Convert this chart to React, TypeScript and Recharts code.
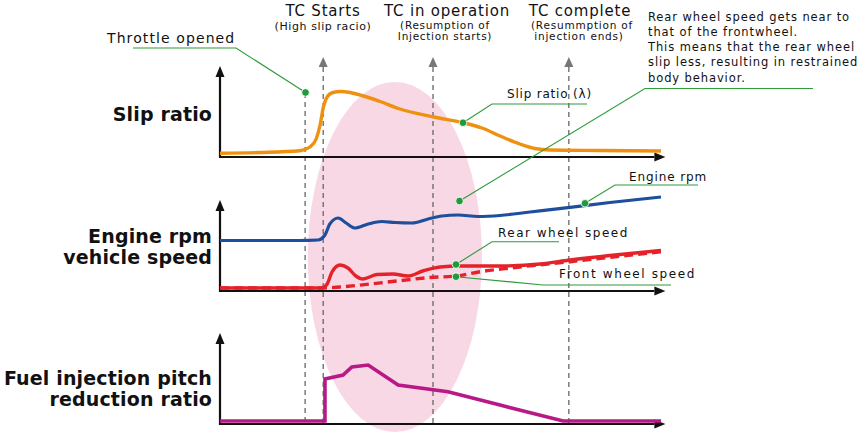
import React from "react";
import { LineChart, Line, XAxis, YAxis, ReferenceLine, ReferenceArea } from "recharts";

// ---- time axis (0..100) ----
const eventTimes = { throttle: 19.3, tcStart: 23.4, tcOperation: 48.3, tcComplete: 79.1 };
const eventTitles = ["TC Starts", "TC in operation", "TC complete"];

// ---- Slip ratio ----
const slipTime = [0, 9.1, 18.1, 20.4, 21.8, 22.7, 23.4, 24.3, 25.6, 27.4, 29.5, 32.2, 36.3, 40.8, 48.5, 55.1, 59.4, 63.5, 68, 71.4, 74.8, 86.2, 100];
const slipRatio = [3.7, 4.5, 6.3, 10, 18, 32, 49, 60, 64.5, 65.5, 64.5, 61.5, 55.5, 48, 40, 34.3, 29, 21, 13, 8.5, 7, 6.5, 6];

// ---- Engine rpm ----
const rpmTime = [0, 18.1, 22.2, 23.8, 24.9, 26.8, 28.6, 30.6, 33.6, 36.7, 39.7, 43.5, 47.2, 50.3, 54, 58.5, 63.5, 70.3, 79.4, 88.4, 100];
const engineRpm = [50.5, 50.5, 51, 56, 67, 73, 68, 63, 67, 69.5, 68.5, 68, 72, 75, 76, 74.5, 75.5, 79, 83.7, 88.5, 94];

// ---- Rear wheel speed ----
const rearTime = [0, 23.1, 24.3, 25.4, 27.2, 29, 30.8, 32.4, 35.6, 39.2, 42.6, 46, 49.9, 54.4, 63.5, 72.6, 79.4, 88.4, 100];
const rearSpeed = [3, 3, 7, 19, 26, 23, 15, 12, 16.5, 17, 15, 20, 24, 25, 25, 27, 31, 35.5, 40.5];

// ---- Front wheel speed ----
const frontTime = [0, 23.4, 27.2, 34, 40.8, 47.6, 53.5, 59, 65.8, 79.4, 100];
const frontSpeed = [3, 3, 4, 7, 10.3, 13.5, 15, 19.3, 23, 29.3, 39.3];

// ---- Fuel injection pitch reduction ratio ----
const fuelTime = [0, 23.8, 23.8, 27.9, 29.9, 33.6, 40.4, 51.7, 63.5, 77.8, 100];
const fuelRatio = [3, 3, 45, 49, 57, 59, 39, 32.3, 19, 3, 3];

const zip = (ts: number[], vs: number[]) => ts.map((t, i) => ({ t, v: vs[i] }));
const slipData = zip(slipTime, slipRatio);
const rpmData = zip(rpmTime, engineRpm);
const rearData = zip(rearTime, rearSpeed);
const frontData = zip(frontTime, frontSpeed);
const fuelData = zip(fuelTime, fuelRatio);
// background layer frame (time range 0..100, vertical layout 0..437)
const frameData = [{ t: 0, v: 0 }, { t: 100, v: 437 }];

const W = 860;
const H = 437;
const LEFT = 220;
const RIGHT = 199;

const AxisArrow = (p: any) => {
  const { x1, y1, x2, y2 } = p;
  const dx = x2 - x1, dy = y2 - y1;
  const L = Math.hypot(dx, dy) || 1;
  const ux = dx / L, uy = dy / L;
  const len = 11, hw = 4.5;
  const tip = [x2 + ux * len, y2 + uy * len];
  const a = [x2 - uy * hw, y2 + ux * hw];
  const b = [x2 + uy * hw, y2 - ux * hw];
  return (
    <g>
      <line x1={x1 - ux * 1} y1={y1 - uy * 1} x2={x2} y2={y2} stroke="#111" strokeWidth={2.2} />
      <polygon points={`${tip[0]},${tip[1]} ${a[0]},${a[1]} ${b[0]},${b[1]}`} fill="#111" />
    </g>
  );
};

const EventArrow = (p: any) => {
  const { x1, y1, x2, y2 } = p;
  return (
    <g>
      <line x1={x1} y1={y1} x2={x2} y2={y2} stroke="#666" strokeWidth={1.3} strokeDasharray="5 4" />
      <polygon points={`${x1},${y1 - 10} ${x1 - 4.5},${y1} ${x1 + 4.5},${y1}`} fill="#777" />
    </g>
  );
};

const PlainDashed = (p: any) => {
  const { x1, y1, x2, y2 } = p;
  return <line x1={x1} y1={y1} x2={x2} y2={y2} stroke="#666" strokeWidth={1.3} strokeDasharray="5 4" />;
};

const EllipseShape = (p: any) => {
  const { x, y, width, height } = p;
  return <ellipse cx={x + width / 2} cy={y + height / 2} rx={width / 2} ry={height / 2} fill="#f9d8e6" />;
};

const Panel = ({ top, bottom, yMax, children }: any) => (
  <div style={{ position: "absolute", left: 0, top: 0 }}>
    <LineChart width={W} height={H} margin={{ top, right: RIGHT, bottom: H - bottom, left: LEFT }}>
      <XAxis type="number" dataKey="t" domain={[0, 100]} hide />
      <YAxis type="number" domain={[0, yMax]} hide />
      <ReferenceLine segment={[{ x: 0, y: 0 }, { x: 98.5, y: 0 }]} shape={AxisArrow} ifOverflow="visible" />
      <ReferenceLine segment={[{ x: 0, y: 0 }, { x: 0, y: 80 }]} shape={AxisArrow} ifOverflow="visible" />
      {children}
    </LineChart>
  </div>
);

const green = "#2f9a3a";
const Leader = ({ pts, dot }: { pts: number[][]; dot: number[] }) => (
  <g>
    <polyline points={pts.map((q) => q.join(",")).join(" ")} fill="none" stroke={green} strokeWidth={1.1} />
    <circle cx={dot[0]} cy={dot[1]} r={3.8} fill="#1f9a3c" stroke="#fff" strokeWidth={0.8} />
  </g>
);

const font = "'DejaVu Sans', sans-serif";

export default function App() {
  return (
    <div style={{ position: "absolute", left: 0, top: 0, width: W, height: H, background: "#fff", fontFamily: font }}>
      {/* background: ellipse + event lines */}
      <div style={{ position: "absolute", left: 0, top: 0 }}>
        <LineChart width={W} height={H} data={frameData} margin={{ top: 0, right: RIGHT, bottom: 0, left: LEFT }}>
          <XAxis type="number" dataKey="t" domain={[0, 100]} hide />
          <YAxis type="number" dataKey="v" domain={[0, H]} reversed hide />
          <Line dataKey="v" stroke="none" dot={false} activeDot={false} isAnimationActive={false} />
          <ReferenceArea x1={19.9} x2={59.4} y1={82} y2={432} shape={EllipseShape} ifOverflow="visible" />
          <ReferenceLine segment={[{ x: eventTimes.throttle, y: 93 }, { x: eventTimes.throttle, y: 424 }]} shape={PlainDashed} ifOverflow="visible" />
          <ReferenceLine segment={[{ x: eventTimes.tcStart, y: 67 }, { x: eventTimes.tcStart, y: 424 }]} shape={EventArrow} ifOverflow="visible" />
          <ReferenceLine segment={[{ x: eventTimes.tcOperation, y: 67 }, { x: eventTimes.tcOperation, y: 424 }]} shape={EventArrow} ifOverflow="visible" />
          <ReferenceLine segment={[{ x: eventTimes.tcComplete, y: 67 }, { x: eventTimes.tcComplete, y: 424 }]} shape={EventArrow} ifOverflow="visible" />
        </LineChart>
      </div>

      {/* Slip ratio panel */}
      <Panel top={70} bottom={157} yMax={87}>
        <Line data={slipData} dataKey="v" type="monotone" stroke="#f0900f" strokeWidth={3.4} dot={false} isAnimationActive={false} />
      </Panel>

      {/* Engine rpm / vehicle speed panel */}
      <Panel top={190} bottom={291} yMax={101}>
        <Line data={rpmData} dataKey="v" type="monotone" stroke="#1d4f9c" strokeWidth={3.2} dot={false} isAnimationActive={false} />
        <Line data={frontData} dataKey="v" type="monotone" stroke="#e5222a" strokeWidth={3.4} strokeDasharray="9 5" dot={false} isAnimationActive={false} />
        <Line data={rearData} dataKey="v" type="monotone" stroke="#e5222a" strokeWidth={3.4} dot={false} isAnimationActive={false} />
      </Panel>

      {/* Fuel injection panel */}
      <Panel top={330} bottom={424} yMax={94}>
        <Line data={fuelData} dataKey="v" type="linear" stroke="#b71a86" strokeWidth={3.6} dot={false} isAnimationActive={false} />
      </Panel>

      {/* annotations */}
      <svg width={W} height={H} style={{ position: "absolute", left: 0, top: 0, pointerEvents: "none" }}>
        <g fontFamily={font} fill="#111">
          <text x={323} y={16} fontSize={15} letterSpacing={0.8} textAnchor="middle">{eventTitles[0]}</text>
          <text x={323} y={30} fontSize={11} letterSpacing={0.6} textAnchor="middle">(High slip racio)</text>
          <text x={447} y={16} fontSize={15} letterSpacing={0.8} textAnchor="middle">{eventTitles[1]}</text>
          <text x={445} y={28.5} fontSize={10.5} letterSpacing={0.7} textAnchor="middle">(Resumption of</text>
          <text x={445} y={40} fontSize={10.5} letterSpacing={0.7} textAnchor="middle">Injection starts)</text>
          <text x={580} y={16} fontSize={15} letterSpacing={0.8} textAnchor="middle">{eventTitles[2]}</text>
          <text x={582} y={28.5} fontSize={10.5} letterSpacing={0.8} textAnchor="middle">(Resummption of</text>
          <text x={579} y={40} fontSize={10.5} letterSpacing={0.8} textAnchor="middle">injection ends)</text>

          <g fontSize={11.5} letterSpacing={0.9}>
            <text x={648} y={20.5}>Rear wheel speed gets near to</text>
            <text x={648} y={35.8}>that of the frontwheel.</text>
            <text x={648} y={51.1}>This means that the rear wheel</text>
            <text x={648} y={66.4}>slip less, resulting in restrained</text>
            <text x={648} y={81.7}>body behavior.</text>
          </g>

          <text x={107} y={43} fontSize={14} letterSpacing={1.1}>Throttle opened</text>
          <text x={507} y={98} fontSize={12} letterSpacing={0.8}>Slip ratio (λ)</text>
          <text x={629} y={181} fontSize={12} letterSpacing={0.9}>Engine rpm</text>
          <text x={498} y={237} fontSize={12} letterSpacing={1.5}>Rear wheel speed</text>
          <text x={559} y={278} fontSize={12} letterSpacing={1.6}>Front wheel speed</text>

          <g fontSize={19} fontWeight="bold" textAnchor="end" letterSpacing={0.15}>
            <text x={212} y={121}>Slip ratio</text>
            <text x={212} y={243}>Engine rpm</text>
            <text x={212} y={264}>vehicle speed</text>
            <text x={212} y={384.5}>Fuel injection pitch</text>
            <text x={212} y={406}>reduction ratio</text>
          </g>
        </g>

        <Leader pts={[[133, 48], [236, 48], [305.5, 92.5]]} dot={[305.5, 92.5]} />
        <Leader pts={[[587, 104], [492, 104], [463, 122.7]]} dot={[463, 122.7]} />
        <Leader pts={[[813, 88.5], [645, 88.5], [459.5, 201]]} dot={[459.5, 201]} />
        <Leader pts={[[698, 185], [615, 185], [585, 203.3]]} dot={[585, 203.3]} />
        <Leader pts={[[559, 241.7], [492, 241.7], [456, 264.5]]} dot={[456, 264.5]} />
        <Leader pts={[[671, 285], [543, 285], [456, 276.7]]} dot={[456, 276.7]} />
      </svg>
    </div>
  );
}
